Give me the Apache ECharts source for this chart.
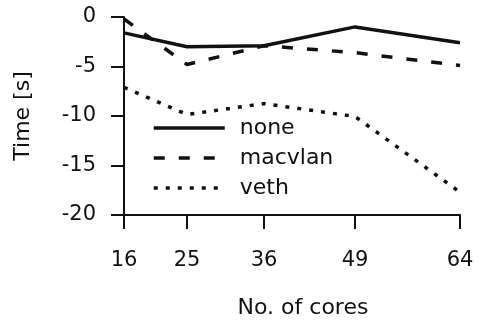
<!DOCTYPE html>
<html>
<head>
<meta charset="utf-8">
<script src="https://cdn.jsdelivr.net/npm/echarts@6/dist/echarts.min.js"></script>
<style>
  html, body { margin: 0; padding: 0; background: #fff; }
  #chart { width: 483px; height: 324px; }
</style>
</head>
<body>
<div id="chart"></div>
<script>
// Core counts on the x axis and timing results per network mode
const cores = [16, 25, 36, 49, 64];
const noneTimes = [-1.6, -3.0, -2.9, -1.0, -2.6];
const macvlanTimes = [-0.2, -4.8, -2.9, -3.6, -4.9];
const vethTimes = [-7.1, -9.85, -8.75, -10.05, -17.7];
const yTicks = [0, -5, -10, -15, -20];

const FONT = 'DejaVu Sans, sans-serif';
const INK = '#111';

function pairs(ys) {
  return cores.map((c, i) => [c, ys[i]]);
}

function lineSeries(name, ys, type, width) {
  return {
    name: name,
    type: 'line',
    data: pairs(ys),
    symbol: 'none',
    showSymbol: false,
    lineStyle: { color: INK, width: width, type: type, cap: 'butt' },
    itemStyle: { color: INK },
    z: 3
  };
}

const chart = echarts.init(document.getElementById('chart'), null, { renderer: 'canvas' });
chart.setOption({
  backgroundColor: '#fff',
  animation: false,
  grid: { left: 124, right: 23, top: 17, bottom: 105, containLabel: false },
  legend: {
    left: 152,
    top: 117,
    padding: 0,
    orient: 'vertical',
    itemWidth: 71,
    itemHeight: 14,
    itemGap: 8,
    itemStyle: { opacity: 0 },
    lineStyle: { width: 3.5 },
    textStyle: { fontFamily: FONT, fontSize: 22, color: INK, padding: [0, 0, 0, 10] },
    data: ['none', 'macvlan', 'veth']
  },
  xAxis: {
    type: 'value',
    min: 16,
    max: 64,
    name: 'No. of cores',
    nameLocation: 'middle',
    nameGap: 82,
    nameTextStyle: { fontFamily: FONT, fontSize: 22, color: INK, padding: [0, 0, 0, 22] },
    axisLine: { show: true, onZero: false, lineStyle: { color: INK, width: 2 } },
    axisTick: { show: true, inside: false, length: 14, customValues: cores, lineStyle: { color: INK, width: 2 } },
    axisLabel: { customValues: cores, margin: 35, fontFamily: FONT, fontSize: 21, color: INK },
    splitLine: { show: false }
  },
  yAxis: {
    type: 'value',
    min: -20,
    max: 0,
    interval: 5,
    name: 'Time [s]',
    nameLocation: 'middle',
    nameGap: 90,
    nameRotate: 90,
    nameTextStyle: { fontFamily: FONT, fontSize: 22, color: INK },
    axisLine: { show: true, onZero: false, lineStyle: { color: INK, width: 2 } },
    axisTick: { show: true, inside: false, length: 13, lineStyle: { color: INK, width: 2 } },
    axisLabel: {
      margin: 28, fontFamily: FONT, fontSize: 21, color: INK,
      formatter: v => (yTicks.includes(v) ? String(v) : '')
    },
    splitLine: { show: false }
  },
  series: [
    lineSeries('none', noneTimes, 'solid', 3.5),
    lineSeries('macvlan', macvlanTimes, [11, 14], 3.5),
    lineSeries('veth', vethTimes, [4, 8], 3.5)
  ]
});
</script>
</body>
</html>
